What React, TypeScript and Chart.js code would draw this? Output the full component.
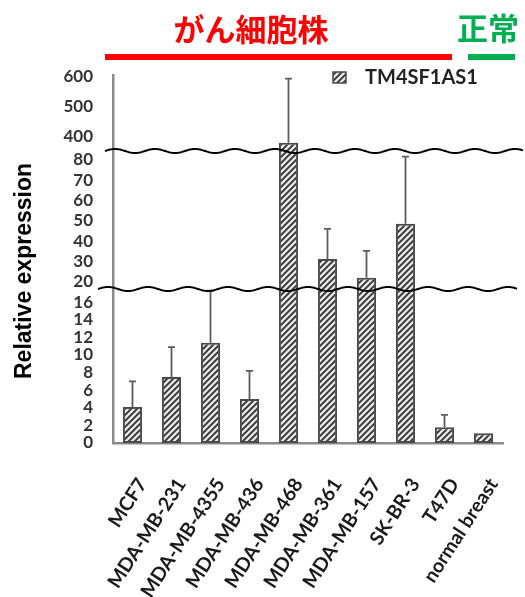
import React, { useEffect, useRef } from 'react';
import { Chart, registerables, LinearScale } from 'chart.js';

Chart.register(...registerables);

// ---- data ----
const categories = ['MCF7', 'MDA-MB-231', 'MDA-MB-4355', 'MDA-MB-436', 'MDA-MB-468', 'MDA-MB-361', 'MDA-MB-157', 'SK-BR-3', 'T47D', 'normal breast'];
const values = [4.1, 7.5, 11.4, 5.0, 380, 31.3, 22, 48.6, 1.8, 1.1];
const errors = [2.9, 3.4, 5.9, 3.2, 213, 14.8, 13.3, 33, 1.4, 0];
const yTicks = [0, 2, 4, 6, 8, 10, 12, 14, 16, 20, 30, 40, 50, 60, 70, 80, 400, 500, 600];
const seriesLabel = 'TM4SF1AS1';
const yTitle = 'Relative expression';
const cancerTitle = 'がん細胞株';
const normalTitle = '正常';

// broken axis panels: value range of each panel and its share of the axis height
const segMin = [0, 16.5, 353];
const segMax = [17.5, 84.4, 605];
const segShare = [154, 138, 76];

class BrokenScale extends LinearScale {
  static id = 'broken';
  static defaults = LinearScale.defaults;
  buildTicks() {
    return yTicks.map((v) => ({ value: v }));
  }
  getPixelForValue(value: number) {
    const total = segShare.reduce((a, b) => a + b, 0);
    let acc = 0;
    for (let i = 0; i < segMin.length; i++) {
      const last = i === segMin.length - 1;
      if (value <= segMax[i] || last) {
        const v = Math.min(Math.max(value, segMin[i]), segMax[i]);
        const dec = (acc + ((v - segMin[i]) / (segMax[i] - segMin[i])) * segShare[i]) / total;
        return (this as any).getPixelForDecimal(dec);
      }
      acc += segShare[i];
    }
    return (this as any).getPixelForDecimal(1);
  }
  getValueForPixel(pixel: number) {
    const total = segShare.reduce((a, b) => a + b, 0);
    const dec = (this as any).getDecimalForPixel(pixel) * total;
    let acc = 0;
    for (let i = 0; i < segMin.length; i++) {
      if (dec <= acc + segShare[i] || i === segMin.length - 1) {
        return segMin[i] + ((dec - acc) / segShare[i]) * (segMax[i] - segMin[i]);
      }
      acc += segShare[i];
    }
    return segMax[segMax.length - 1];
  }
}
Chart.register(BrokenScale as any);

function makeHatch(): CanvasPattern | string {
  const c = document.createElement('canvas');
  c.width = 6;
  c.height = 6;
  const g = c.getContext('2d');
  if (!g) return '#bbb';
  g.fillStyle = '#e6e6e6';
  g.fillRect(0, 0, 6, 6);
  g.strokeStyle = '#333';
  g.lineWidth = 1.9;
  g.beginPath();
  g.moveTo(-1, 7); g.lineTo(7, -1);
  g.moveTo(-4, 4); g.lineTo(4, -4);
  g.moveTo(2, 10); g.lineTo(10, 2);
  g.stroke();
  return g.createPattern(c, 'repeat') || '#bbb';
}

function wavy(ctx: CanvasRenderingContext2D, x0: number, x1: number, y: number) {
  ctx.beginPath();
  for (let x = x0; x <= x1; x += 1) {
    const yy = y + 2 * Math.sin(((x - x0) / 40) * Math.PI * 2 + Math.PI);
    if (x === x0) ctx.moveTo(x, yy); else ctx.lineTo(x, yy);
  }
  ctx.stroke();
}

export default function App() {
  const ref = useRef<HTMLCanvasElement>(null);
  useEffect(() => {
    if (!ref.current) return;
    const hatch = makeHatch();
    const decor = {
      id: 'decor',
      afterDatasetsDraw(chart: any) {
        const ctx: CanvasRenderingContext2D = chart.ctx;
        const y = chart.scales.y;
        const meta = chart.getDatasetMeta(0);
        ctx.save();
        // error bars
        ctx.strokeStyle = '#5c5c5c';
        ctx.lineWidth = 1.8;
        meta.data.forEach((bar: any, i: number) => {
          const e = errors[i];
          if (!e) return;
          const yb = y.getPixelForValue(values[i]);
          const yt = y.getPixelForValue(values[i] + e);
          ctx.beginPath();
          ctx.moveTo(bar.x, yb);
          ctx.lineTo(bar.x, yt);
          ctx.moveTo(bar.x - 3.5, yt);
          ctx.lineTo(bar.x + 3.5, yt);
          ctx.stroke();
        });
        // axis breaks
        ctx.strokeStyle = '#000';
        ctx.lineWidth = 2;
        wavy(ctx, 105, 523, y.getPixelForValue(segMax[1]));
        wavy(ctx, 98, 517, y.getPixelForValue(segMax[0]));
        ctx.restore();
      },
      afterDraw(chart: any) {
        const ctx: CanvasRenderingContext2D = chart.ctx;
        ctx.save();
        // group headers
        ctx.textAlign = 'center';
        ctx.textBaseline = 'middle';
        ctx.font = 'bold 31px "Noto Sans CJK JP"';
        ctx.fillStyle = '#ff0000';
        ctx.fillText(cancerTitle, 251, 29);
        ctx.fillRect(105, 54, 347, 6);
        ctx.fillStyle = '#00b050';
        ctx.fillText(normalTitle, 488, 28);
        ctx.fillRect(468, 54, 47, 6);
        // legend
        ctx.fillStyle = hatch as any;
        ctx.fillRect(333, 72, 13, 11);
        ctx.strokeStyle = '#4a4a4a';
        ctx.lineWidth = 1.5;
        ctx.strokeRect(333, 72, 13, 11);
        ctx.fillStyle = '#222';
        ctx.textAlign = 'left';
        ctx.font = 'bold 20px Lato';
        ctx.fillText(seriesLabel, 365, 78);
        // y title
        ctx.translate(25, 271);
        ctx.rotate(-Math.PI / 2);
        ctx.textAlign = 'center';
        ctx.fillStyle = '#000';
        ctx.font = 'bold 23px "Liberation Sans"';
        ctx.fillText(yTitle, 0, 0);
        ctx.restore();
      },
    };
    const chart = new Chart(ref.current, {
      type: 'bar',
      data: {
        labels: categories,
        datasets: [
          {
            label: seriesLabel,
            data: values,
            backgroundColor: hatch as any,
            borderColor: '#4a4a4a',
            borderWidth: 2,
            borderSkipped: false,
            barPercentage: 0.49,
            categoryPercentage: 1,
          },
        ],
      },
      options: {
        responsive: false,
        animation: false,
        layout: { padding: { top: 75, right: 22, left: 0, bottom: 0 } },
        plugins: { legend: { display: false }, tooltip: { enabled: false }, title: { display: false } },
        scales: {
          x: {
            type: 'category',
            grid: { display: false, drawTicks: false },
            border: { display: true, color: '#8a8a8a', width: 2.5 },
            ticks: {
              autoSkip: false,
              minRotation: 57,
              maxRotation: 57,
              padding: 31,
              labelOffset: 10,
              color: '#1a1a1a',
              font: { family: 'Lato', weight: 'bold', size: 19.5 },
            },
            afterFit: (s: any) => { s.height = 154; s.paddingLeft = 0; s.paddingRight = 0; },
          },
          y: {
            type: 'broken' as any,
            min: 0,
            max: 605,
            grid: { display: false, drawTicks: false },
            border: { display: true, color: '#8a8a8a', width: 2.5 },
            ticks: {
              autoSkip: false,
              padding: 20,
              color: '#333',
              font: { family: 'Lato', weight: 'bold', size: 17 },
              callback: (v: any) => String(v),
            },
            afterFit: (s: any) => { s.width = 113; s.paddingTop = 0; s.paddingBottom = 0; },
          },
        },
      },
      plugins: [decor],
    });
    return () => chart.destroy();
  }, []);
  return (
    <div style={{ position: 'fixed', left: 0, top: 0, width: 525, height: 597, background: '#fff' }}>
      <canvas ref={ref} width={525} height={597} style={{ display: 'block' }} />
    </div>
  );
}
